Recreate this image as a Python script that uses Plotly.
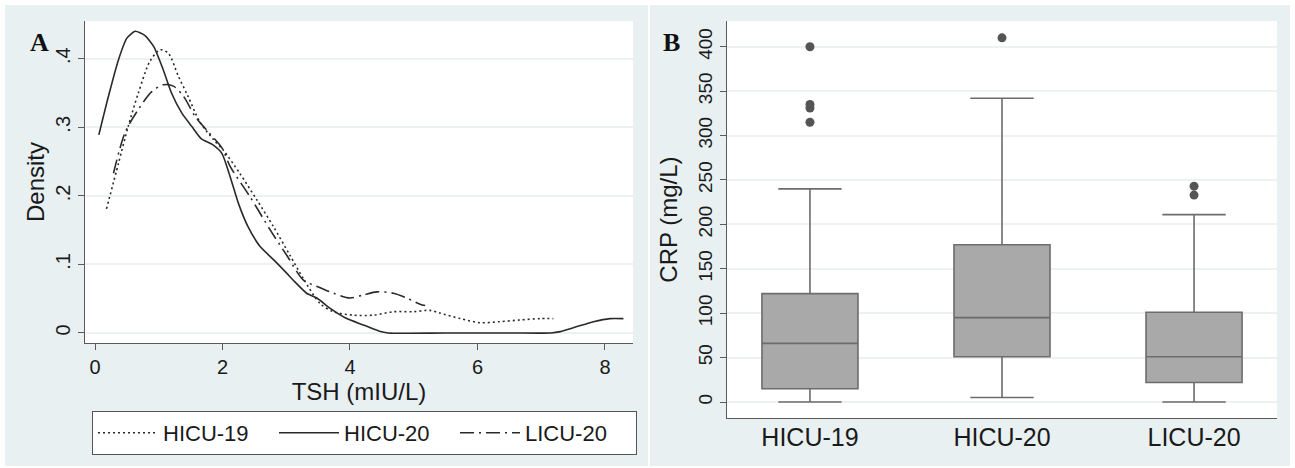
import plotly.graph_objects as go

# ---------------- Data ----------------
# Panel A: kernel density of TSH (mIU/L)
hicu19_x = [0.18, 0.37, 0.52, 0.68, 0.86, 1.02, 1.15, 1.31, 1.46, 1.65, 1.86, 2.01, 2.27, 2.54, 2.80,
            3.06, 3.27, 3.53, 3.74, 4.05, 4.37, 4.68, 4.99, 5.25, 5.41, 5.73, 6.04, 6.35, 6.67, 6.98, 7.19]
hicu19_y = [0.181, 0.248, 0.301, 0.350, 0.396, 0.413, 0.408, 0.374, 0.345, 0.307, 0.282, 0.267, 0.233,
            0.194, 0.155, 0.113, 0.079, 0.043, 0.031, 0.026, 0.026, 0.031, 0.031, 0.033, 0.029, 0.021,
            0.015, 0.0165, 0.019, 0.021, 0.021]

hicu20_x = [0.06, 0.21, 0.37, 0.50, 0.63, 0.78, 0.92, 1.07, 1.20, 1.36, 1.52, 1.67, 1.84, 1.99, 2.12,
            2.25, 2.40, 2.59, 2.80, 3.01, 3.11, 3.32, 3.48, 3.69, 3.95, 4.21, 4.45, 4.60, 5.5, 6.5, 7.15,
            7.30, 7.55, 7.82, 8.08, 8.29]
hicu20_y = [0.289, 0.345, 0.399, 0.430, 0.440, 0.434, 0.418, 0.384, 0.350, 0.321, 0.301, 0.283, 0.275,
            0.262, 0.228, 0.189, 0.155, 0.126, 0.107, 0.087, 0.077, 0.058, 0.051, 0.036, 0.021, 0.0117,
            0.003, 0.0, 0.0, 0.0, 0.0, 0.002, 0.009, 0.0165, 0.021, 0.021]

licu20_x = [0.29, 0.47, 0.68, 0.89, 1.07, 1.23, 1.39, 1.57, 1.78, 1.99, 2.12, 2.43, 2.75, 3.01, 3.27,
            3.48, 3.74, 4.00, 4.21, 4.42, 4.68, 4.89, 5.10, 5.18]
licu20_y = [0.233, 0.292, 0.326, 0.352, 0.362, 0.360, 0.345, 0.316, 0.293, 0.270, 0.243, 0.199, 0.150,
            0.113, 0.077, 0.068, 0.058, 0.051, 0.0555, 0.060, 0.058, 0.051, 0.042, 0.040]

# Panel B: CRP (mg/L) box plot summary
groups = ["HICU-19", "HICU-20", "LICU-20"]
crp_lower = [0, 5, 0]
crp_q1 = [15, 51, 22]
crp_median = [66, 95, 51]
crp_q3 = [122, 177, 101]
crp_upper = [240, 342, 211]
outlier_group = ["HICU-19", "HICU-19", "HICU-19", "HICU-19", "HICU-20", "LICU-20", "LICU-20"]
outlier_crp = [400, 335, 331, 315, 410, 243, 233]

density_ticks = [0, 0.1, 0.2, 0.3, 0.4]
density_ticktext = ["0", ".1", ".2", ".3", ".4"]
tsh_ticks = [0, 2, 4, 6, 8]
crp_ticks = [0, 50, 100, 150, 200, 250, 300, 350, 400]

# ---------------- Figure ----------------
W, H = 1295, 468
FONT = "Liberation Sans, Arial, sans-serif"
TXT = "#1a1a1a"
AX = "#5a5a5a"
GRID = "#edf1f2"
PANEL = "#e8f0f2"


def px(x):
    return x / W


def py(y):
    return 1 - y / H


fig = go.Figure()

line_col = "#2a2a2a"
fig.add_trace(go.Scatter(x=hicu19_x, y=hicu19_y, mode="lines", name="HICU-19",
                         line=dict(color=line_col, width=1.6, dash="2px,3px", shape="spline", smoothing=0.8),
                         xaxis="x", yaxis="y"))
fig.add_trace(go.Scatter(x=hicu20_x, y=hicu20_y, mode="lines", name="HICU-20",
                         line=dict(color=line_col, width=1.6, dash="solid", shape="spline", smoothing=0.6),
                         xaxis="x", yaxis="y"))
fig.add_trace(go.Scatter(x=licu20_x, y=licu20_y, mode="lines", name="LICU-20",
                         line=dict(color=line_col, width=1.6, dash="14px,5px,2px,5px", shape="spline",
                                   smoothing=0.8),
                         xaxis="x", yaxis="y"))

fig.add_trace(go.Box(x=groups, q1=crp_q1, median=crp_median, q3=crp_q3,
                     lowerfence=crp_lower, upperfence=crp_upper,
                     boxpoints=False, width=0.5, whiskerwidth=0.66,
                     fillcolor="#a9a9a9", line=dict(color="#6c6c6c", width=1.6),
                     showlegend=False, xaxis="x2", yaxis="y2"))
fig.add_trace(go.Scatter(x=outlier_group, y=outlier_crp, mode="markers",
                         marker=dict(color="#555555", size=9),
                         showlegend=False, xaxis="x2", yaxis="y2"))

# panel backgrounds
shapes = [
    dict(type="rect", xref="paper", yref="paper", x0=px(5), x1=px(648), y0=py(466), y1=py(5),
         fillcolor=PANEL, line=dict(width=0), layer="below"),
    dict(type="rect", xref="paper", yref="paper", x0=px(650), x1=px(1290), y0=py(466), y1=py(5),
         fillcolor=PANEL, line=dict(width=0), layer="below"),
    dict(type="rect", xref="paper", yref="paper", x0=px(85), x1=px(633), y0=py(343), y1=py(21),
         fillcolor="white", line=dict(width=0), layer="below"),
    dict(type="rect", xref="paper", yref="paper", x0=px(727), x1=px(1277), y0=py(418), y1=py(21),
         fillcolor="white", line=dict(width=0), layer="below"),
]

axis_common = dict(showline=True, linecolor=AX, linewidth=1.3, ticks="outside", tickcolor=AX,
                   ticklen=6, tickwidth=1.3, zeroline=False,
                   tickfont=dict(family=FONT, size=20, color=TXT),
                   title_font=dict(family=FONT, size=24, color=TXT))

fig.update_layout(
    width=W, height=H,
    margin=dict(l=0, r=0, t=0, b=0),
    paper_bgcolor="white",
    plot_bgcolor="rgba(0,0,0,0)",
    shapes=shapes,
    showlegend=True,
    xaxis=dict(domain=[px(85), px(633)], anchor="y", range=[-0.157, 8.44],
               tickvals=tsh_ticks, showgrid=False,
               title=dict(text="TSH (mIU/L)", standoff=4), **axis_common),
    yaxis=dict(domain=[py(343), py(21)], anchor="x", range=[-0.0146, 0.455],
               tickvals=density_ticks, ticktext=density_ticktext, tickangle=-90,
               showgrid=True, gridcolor=GRID, gridwidth=1.5,
               title=dict(text="Density", standoff=0), **axis_common),
    xaxis2=dict(domain=[px(727), px(1277)], anchor="y2", range=[-0.432, 2.432],
                showgrid=False, showline=True, linecolor=AX, linewidth=1.3, ticks="",
                ticklabelstandoff=-3,
                tickfont=dict(family=FONT, size=25, color=TXT), zeroline=False),
    yaxis2=dict(domain=[py(418), py(21)], anchor="x2", range=[-18, 429],
                tickvals=crp_ticks, tickangle=-90,
                showgrid=True, gridcolor=GRID, gridwidth=1.5,
                title=dict(text="CRP (mg/L)", standoff=10),
                **{**axis_common, "tickfont": dict(family=FONT, size=19, color=TXT)}),
    legend=dict(orientation="h", x=px(92), y=py(411), xanchor="left", yanchor="top",
                bgcolor="white", bordercolor="#555555", borderwidth=1,
                font=dict(family=FONT, size=22, color=TXT), entrywidth=106,
                tracegroupgap=0, itemwidth=60),
    annotations=[
        dict(text="<b>A</b>", x=px(28), y=py(26), xref="paper", yref="paper", showarrow=False,
             font=dict(family="Liberation Serif, Times New Roman, serif", size=26, color="#111")),
        dict(text="<b>B</b>", x=px(671), y=py(26), xref="paper", yref="paper", showarrow=False,
             font=dict(family="Liberation Serif, Times New Roman, serif", size=26, color="#111")),
    ],
)

fig.write_html("out.html", config={"displayModeBar": False},
               post_script="document.body.style.margin='0px';")
